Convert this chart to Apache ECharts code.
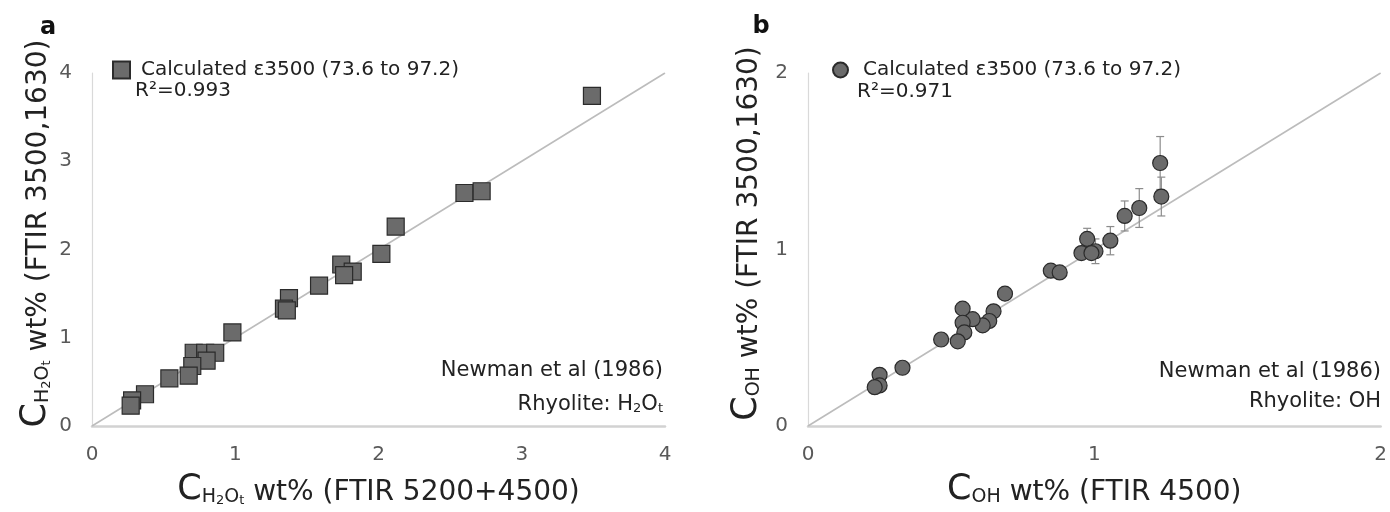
<!DOCTYPE html>
<html>
<head>
<meta charset="utf-8">
<title>FTIR water comparison</title>
<script src="https://cdn.jsdelivr.net/npm/echarts@6.0.0/dist/echarts.min.js"></script>
<style>
  html, body { margin: 0; padding: 0; background: #fff; }
  #chart { width: 1390px; height: 512px; }
</style>
</head>
<body>
<div id="chart"></div>
<script>
// panel a: total water, H2Ot (x = FTIR 5200+4500, y = FTIR 3500,1630)
var h2oX = [3.49, 2.60, 2.72, 2.12, 2.02, 1.74, 1.82, 1.76, 1.585, 1.375, 1.34, 1.36, 0.98, 0.71, 0.79, 0.86, 0.80, 0.70, 0.675, 0.54, 0.37, 0.28, 0.27]
var h2oY = [3.74, 2.64, 2.66, 2.26, 1.95, 1.83, 1.75, 1.71, 1.59, 1.45, 1.33, 1.31, 1.06, 0.83, 0.83, 0.83, 0.74, 0.68, 0.57, 0.54, 0.36, 0.29, 0.23]
var h2oErrX = [3.49]
var h2oErrY = [3.74]
var h2oErr = [0.07]

// panel b: hydroxyl, OH (x = FTIR 4500, y = FTIR 3500,1630)
var ohX = [1.23, 1.234, 1.157, 1.106, 1.056, 0.975, 1.004, 0.955, 0.99, 0.848, 0.879, 0.688, 0.648, 0.633, 0.61, 0.575, 0.54, 0.54, 0.546, 0.523, 0.465, 0.33, 0.25, 0.25, 0.233]
var ohY = [1.49, 1.30, 1.235, 1.19, 1.05, 1.06, 0.99, 0.98, 0.98, 0.88, 0.87, 0.75, 0.65, 0.595, 0.57, 0.605, 0.665, 0.585, 0.53, 0.48, 0.49, 0.33, 0.29, 0.23, 0.22]
var ohErrX = [1.23, 1.234, 1.157, 1.106, 1.056, 0.975, 1.004]
var ohErrY = [1.49, 1.30, 1.235, 1.19, 1.05, 1.06, 0.99]
var ohErr = [0.15, 0.11, 0.11, 0.085, 0.08, 0.06, 0.07]

// 1:1 reference lines
var oneToOneA = [0, 4]
var oneToOneB = [0, 2]

var legendText = 'Calculated ε3500 (73.6 to 97.2)'
var r2A = 'R²=0.993'
var r2B = 'R²=0.971'

var FONT = '"DejaVu Sans", sans-serif'
var INK = '#222222'

function zip(a, b) {
  var out = []
  for (var i = 0; i < a.length; i++) out.push([a[i], b[i]])
  return out
}
function zip3(a, b, c) {
  var out = []
  for (var i = 0; i < a.length; i++) out.push([a[i], b[i], c[i]])
  return out
}

// subscripts: every piece is bottom aligned, lineHeight picks its baseline
var titleRich = {
  c: { fontSize: 35, lineHeight: 46, verticalAlign: 'bottom', color: INK, fontFamily: FONT },
  m: { fontSize: 28, lineHeight: 41, verticalAlign: 'bottom', color: INK, fontFamily: FONT },
  s: { fontSize: 19, lineHeight: 27, verticalAlign: 'bottom', color: INK, fontFamily: FONT },
  ss: { fontSize: 13, lineHeight: 13, verticalAlign: 'bottom', color: INK, fontFamily: FONT }
}
var noteRich = {
  n: { fontSize: 21, lineHeight: 28, verticalAlign: 'bottom', color: INK, fontFamily: FONT },
  ss: { fontSize: 13, lineHeight: 15, verticalAlign: 'bottom', color: INK, fontFamily: FONT }
}

function errorBars(params, api) {
  var x = api.value(0)
  var y = api.value(1)
  var e = api.value(2)
  var hi = api.coord([x, y + e])
  var lo = api.coord([x, y - e])
  var w = 4
  var st = { stroke: '#8c8c8c', lineWidth: 1.2 }
  return {
    type: 'group',
    children: [
      { type: 'line', shape: { x1: hi[0], y1: hi[1], x2: lo[0], y2: lo[1] }, style: st },
      { type: 'line', shape: { x1: hi[0] - w, y1: hi[1], x2: hi[0] + w, y2: hi[1] }, style: st },
      { type: 'line', shape: { x1: lo[0] - w, y1: lo[1], x2: lo[0] + w, y2: lo[1] }, style: st }
    ]
  }
}

function xAxisOf(idx, max, name, gap) {
  return {
    type: 'value', gridIndex: idx, min: 0, max: max, interval: 1,
    axisLine: { show: true, onZero: false, lineStyle: { color: '#d2d2d2', width: 2.5 } },
    axisTick: { show: false },
    splitLine: { show: false },
    axisLabel: { color: '#595959', fontSize: 20, fontFamily: FONT, margin: 19 },
    name: name, nameLocation: 'middle', nameGap: gap,
    nameTextStyle: { rich: titleRich }
  }
}
function yAxisOf(idx, max, name, gap) {
  return {
    type: 'value', gridIndex: idx, min: 0, max: max, interval: 1,
    axisLine: { show: true, lineStyle: { color: '#d9d9d9', width: 1.2 } },
    axisTick: { show: false },
    splitLine: { show: false },
    axisLabel: { color: '#595959', fontSize: 20, fontFamily: FONT, margin: 20 },
    name: name, nameLocation: 'middle', nameGap: gap,
    nameTextStyle: { rich: titleRich, padding: [0, 0, 0, 32] }
  }
}

var myChart = echarts.init(document.getElementById('chart'), null, { renderer: 'canvas' })
myChart.setOption({
  backgroundColor: '#ffffff',
  animation: false,
  textStyle: { fontFamily: FONT },
  grid: [
    { left: 92, top: 73, width: 573, height: 354 },
    { left: 808, top: 73, width: 575, height: 354 }
  ],
  xAxis: [
    xAxisOf(0, 4, '{c|C}{s|H}{ss|2}{s|O}{ss|t}{m| wt% (FTIR 5200+4500)}', 35),
    xAxisOf(1, 2, '{c|C}{s|OH}{m| wt% (FTIR 4500)}', 35)
  ],
  yAxis: [
    yAxisOf(0, 4, '{c|C}{s|H}{ss|2}{s|O}{ss|t}{m| wt% (FTIR 3500,1630)}', 39),
    yAxisOf(1, 2, '{c|C}{s|OH}{m| wt% (FTIR 3500,1630)}', 44)
  ],
  legend: [
    {
      left: 107, top: 54, itemWidth: 17, itemHeight: 17, selectedMode: false,
      data: [{ name: 'h2o', icon: 'rect' }],
      formatter: function() { return legendText },
      textStyle: { color: INK, fontSize: 20, fontFamily: FONT, lineHeight: 22, padding: [0, 0, 0, 6] }
    },
    {
      left: 827, top: 54, itemWidth: 15, itemHeight: 15, selectedMode: false,
      data: [{ name: 'oh', icon: 'circle' }],
      formatter: function() { return legendText },
      textStyle: { color: INK, fontSize: 20, fontFamily: FONT, lineHeight: 22, padding: [0, 0, 0, 10] }
    }
  ],
  graphic: [
    { type: 'text', x: 48, y: 28, style: { text: 'a', fontSize: 24, fontWeight: 'bold', fontFamily: FONT, fill: '#111', align: 'center', verticalAlign: 'middle' } },
    { type: 'text', x: 761, y: 27, style: { text: 'b', fontSize: 24, fontWeight: 'bold', fontFamily: FONT, fill: '#111', align: 'center', verticalAlign: 'middle' } },
    { type: 'text', x: 135, y: 91, style: { text: r2A, fontSize: 20, fontFamily: FONT, fill: INK, align: 'left', verticalAlign: 'middle' } },
    { type: 'text', x: 857, y: 92, style: { text: r2B, fontSize: 20, fontFamily: FONT, fill: INK, align: 'left', verticalAlign: 'middle' } },
    { type: 'text', x: 663, y: 371, style: { text: 'Newman et al (1986)', fontSize: 21, fontFamily: FONT, fill: INK, align: 'right', verticalAlign: 'middle' } },
    { type: 'text', x: 663, y: 401, style: { text: '{n|Rhyolite: H}{ss|2}{n|O}{ss|t}', rich: noteRich, fontFamily: FONT, fill: INK, align: 'right', verticalAlign: 'middle' } },
    { type: 'text', x: 1381, y: 372, style: { text: 'Newman et al (1986)', fontSize: 21, fontFamily: FONT, fill: INK, align: 'right', verticalAlign: 'middle' } },
    { type: 'text', x: 1381, y: 402, style: { text: 'Rhyolite: OH', fontSize: 21, fontFamily: FONT, fill: INK, align: 'right', verticalAlign: 'middle' } }
  ],
  series: [
    {
      type: 'line', xAxisIndex: 0, yAxisIndex: 0, silent: true, symbol: 'none', z: 1,
      data: zip(oneToOneA, oneToOneA),
      lineStyle: { color: '#bcbcbc', width: 1.6 }
    },
    {
      type: 'line', xAxisIndex: 1, yAxisIndex: 1, silent: true, symbol: 'none', z: 1,
      data: zip(oneToOneB, oneToOneB),
      lineStyle: { color: '#bcbcbc', width: 1.6 }
    },
    {
      type: 'custom', xAxisIndex: 0, yAxisIndex: 0, z: 2, silent: true,
      renderItem: errorBars,
      data: zip3(h2oErrX, h2oErrY, h2oErr)
    },
    {
      type: 'custom', xAxisIndex: 1, yAxisIndex: 1, z: 2, silent: true,
      renderItem: errorBars,
      data: zip3(ohErrX, ohErrY, ohErr)
    },
    {
      name: 'h2o', type: 'scatter', xAxisIndex: 0, yAxisIndex: 0, z: 3,
      symbol: 'rect', symbolSize: 17,
      itemStyle: { color: '#6b6b6b', borderColor: '#2b2b2b', borderWidth: 1.2, opacity: 1 },
      data: zip(h2oX, h2oY)
    },
    {
      name: 'oh', type: 'scatter', xAxisIndex: 1, yAxisIndex: 1, z: 3,
      symbol: 'circle', symbolSize: 15,
      itemStyle: { color: '#6b6b6b', borderColor: '#2b2b2b', borderWidth: 1.2, opacity: 1 },
      data: zip(ohX, ohY)
    }
  ]
})
</script>
</body>
</html>
